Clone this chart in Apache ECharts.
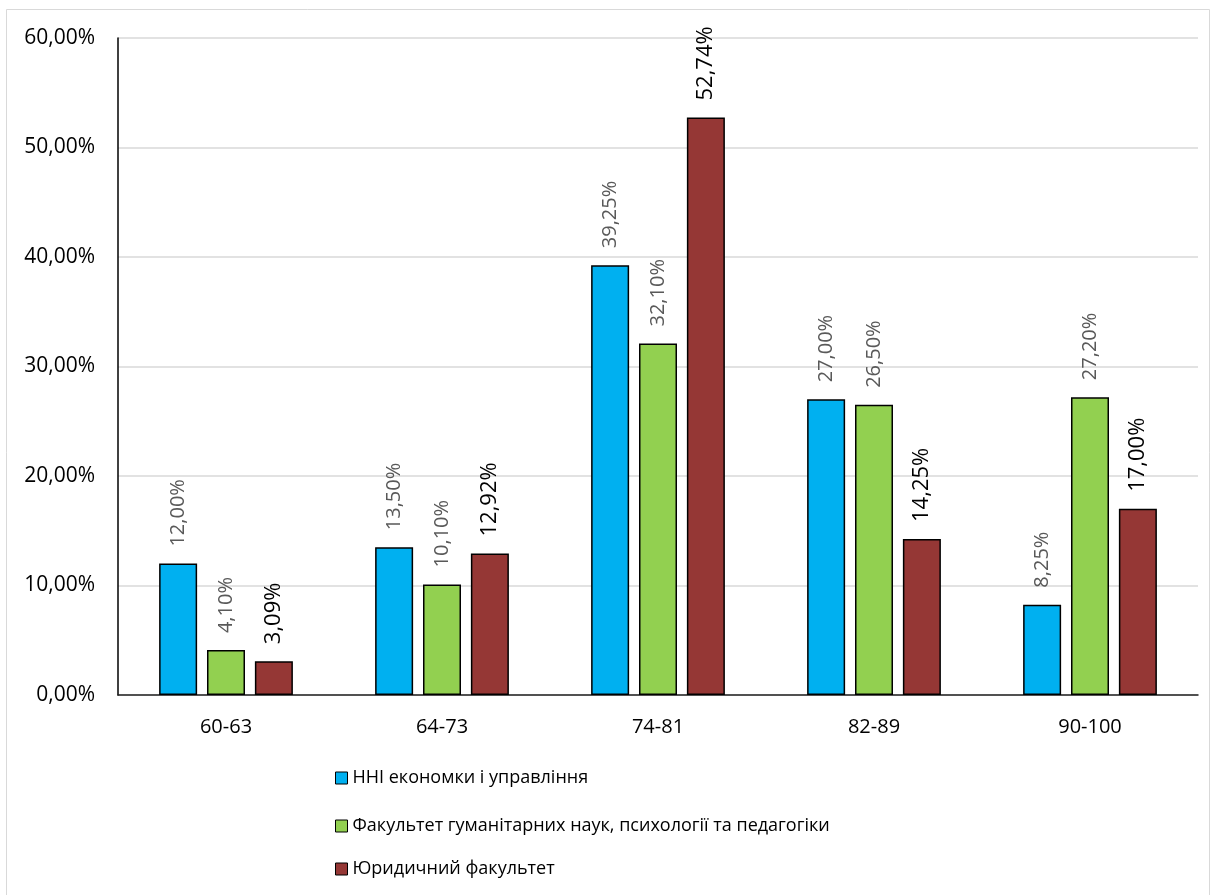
<!DOCTYPE html>
<html>
<head>
<meta charset="utf-8">
<script src="https://cdn.jsdelivr.net/npm/echarts@6/dist/echarts.min.js"></script>
<style>html,body{margin:0;padding:0;background:#fff}#c{width:1216px;height:895px}</style>
</head>
<body>
<div id="c"></div>
<script>
const categories = ['60-63', '64-73', '74-81', '82-89', '90-100'];
const seriesNames = ['ННІ економки і управління', 'Факультет гуманітарних наук, психології та педагогіки', 'Юридичний факультет'];
const econ = [12.00, 13.50, 39.25, 27.00, 8.25];
const human = [4.10, 10.10, 32.10, 26.50, 27.20];
const law = [3.09, 12.92, 52.74, 14.25, 17.00];
const colors = ['#00B0F0', '#92D050', '#953735'];

const FONT = '"Open Sans", "Noto Sans", sans-serif';
const fmt = v => v.toFixed(2).replace('.', ',') + '%';

function mk(name, data, color, strong) {
  return {
    name: name, type: 'bar', data: data,
    barWidth: 38, barGap: '26%',
    itemStyle: { color: color, borderColor: '#000', borderWidth: 1.5 },
    label: {
      show: true, position: 'top', rotate: 90, distance: 17,
      align: 'left', verticalAlign: 'middle',
      formatter: p => fmt(p.value),
      color: strong ? '#000' : '#595959',
      fontSize: strong ? 22 : 20,
      fontFamily: FONT
    }
  };
}

const chart = echarts.init(document.getElementById('c'));
const legendTops = [764, 812, 855];
chart.setOption({
  animation: false,
  backgroundColor: '#fff',
  graphic: [{ type: 'rect', shape: { x: 6.5, y: 9.5, width: 1203, height: 900 }, style: { fill: 'none', stroke: '#d9d9d9', lineWidth: 1 } }],
  grid: { left: 118, right: 18, top: 38, bottom: 200, containLabel: false },
  legend: seriesNames.map((n, i) => ({
    data: [n], left: 330, top: legendTops[i], orient: 'vertical',
    icon: 'rect', itemWidth: 12, itemHeight: 12, itemGap: 6,
    itemStyle: { borderColor: '#000', borderWidth: 1 },
    textStyle: { fontSize: 18, color: '#000', fontFamily: FONT }
  })),
  xAxis: {
    type: 'category', data: categories,
    axisLine: { lineStyle: { color: '#222', width: 1.5 } },
    axisTick: { show: false },
    axisLabel: { fontSize: 20, color: '#000', fontFamily: FONT, margin: 22 }
  },
  yAxis: {
    type: 'value', min: 0, max: 60, interval: 10,
    axisLine: { show: true, lineStyle: { color: '#000', width: 1.5 } },
    axisTick: { show: false },
    splitLine: { lineStyle: { color: '#d9d9d9', width: 1.5 } },
    axisLabel: { formatter: v => fmt(v), fontSize: 21, color: '#000', fontFamily: FONT, margin: 23 }
  },
  series: [mk(seriesNames[0], econ, colors[0], false), mk(seriesNames[1], human, colors[1], false), mk(seriesNames[2], law, colors[2], true)]
});
</script>
</body>
</html>
